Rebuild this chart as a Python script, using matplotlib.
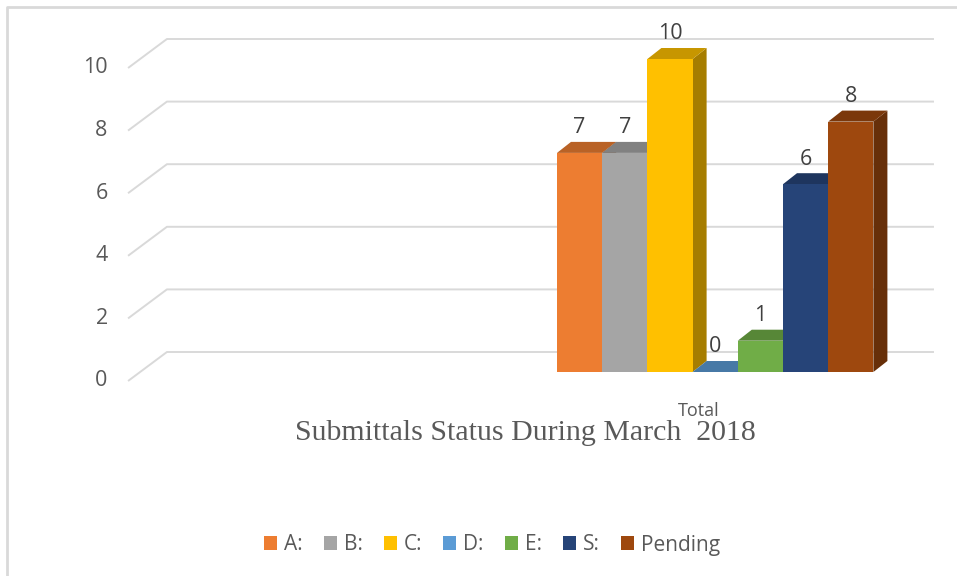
import numpy as np
import matplotlib
matplotlib.use('Agg')
import matplotlib.pyplot as plt
from matplotlib.patches import Polygon, Patch
from matplotlib.lines import Line2D

# --- DATA ---
categories = ["A:", "B:", "C:", "D:", "E:", "S:", "Pending"]
values = [7, 7, 10, 0, 1, 6, 8]
colors = ["#ED7D31", "#A5A5A5", "#FFC000", "#5B9BD5", "#70AD47", "#264478", "#9E480E"]
y_ticks = [0, 2, 4, 6, 8, 10]
group_label = "Total"
title = "Submittals Status During March  2018"

# --- 3D LOOK (in data units: x = one bar width, y = one value unit) ---
PX_X = 45.2      # pixels per bar
PX_Y = 31.3      # pixels per value unit
bar_dx, bar_dy = 14 / PX_X, 11 / PX_Y          # depth of a bar
floor_front = (-9.49, -9 / PX_Y)               # front-left corner of the floor
wall_left, wall_right, wall_dy = -8.63, 8.34, 20 / PX_Y
TOP_SHADE, SIDE_SHADE = 0.78, 0.65
GRID = "#D9D9D9"
TEXT = "#595959"
SANS = ["Open Sans", "DejaVu Sans"]


def shade(c, f):
    r, g, b = matplotlib.colors.to_rgb(c)
    return (r * f, g * f, b * f)


fig = plt.figure(figsize=(9.57, 5.76), dpi=100)
ax = fig.add_axes([0, 0, 1, 1])
# map data -> pixels: x0 of first bar sits at px 557, value 0 at px 372
ax.set_xlim(-557 / PX_X, (957 - 557) / PX_X)
ax.set_ylim((372 - 576) / PX_Y, 372 / PX_Y)
ax.axis("off")

# 1. back wall gridlines + diagonal floor/wall edge
for v in y_ticks:
    ax.plot([floor_front[0], wall_left, wall_right],
            [v + floor_front[1], v + wall_dy, v + wall_dy],
            color=GRID, lw=1.4, zorder=1, solid_capstyle="butt")
    ax.text(floor_front[0] - 0.45, v + floor_front[1], str(v), ha="right", va="center",
            fontsize=15.5, color=TEXT, family=SANS)

# 2. bars (front, top, side), left to right so neighbours overlap correctly
for i, (v, c) in enumerate(zip(values, colors)):
    x0, x1 = i, i + 1
    z = 2 + i
    side = Polygon([(x1, 0), (x1 + bar_dx, bar_dy), (x1 + bar_dx, v + bar_dy), (x1, v)],
                   closed=True, fc=shade(c, SIDE_SHADE), ec="none", zorder=z)
    top = Polygon([(x0, v), (x0 + bar_dx, v + bar_dy), (x1 + bar_dx, v + bar_dy), (x1, v)],
                  closed=True, fc=shade(c, TOP_SHADE), ec="none", zorder=z)
    ax.add_patch(side)
    ax.add_patch(top)
    ax.bar(x0, v, width=1, align="edge", color=c, zorder=z, linewidth=0)
    ax.text(x0 + 0.5, v + 0.8, str(v), ha="center", va="center",
            fontsize=15.5, color="#404040", family=SANS, zorder=20)

# 3. category label under the group
ax.text((699 - 557) / PX_X, -(416 - 372) / PX_Y, group_label, ha="center", va="baseline",
        fontsize=13, color=TEXT, family=SANS)

# 4. title (serif, below the plot)
fig.text(525 / 957, 1 - 440 / 576, title, ha="center", va="baseline",
         fontsize=21.5, color=TEXT, family=["Liberation Serif", "DejaVu Serif"])

# 5. legend
handles = [Patch(facecolor=c, edgecolor="none") for c in colors]
fig.legend(handles, categories, loc="center", bbox_to_anchor=(492 / 957, 1 - 545 / 576),
           ncol=len(categories), frameon=False, handlelength=0.62, handleheight=0.62,
           handletextpad=0.35, columnspacing=1.0,
           prop={"family": SANS, "size": 15}, labelcolor=TEXT)

# 6. chart border (only top/left visible in the crop)
fig.add_artist(Line2D([7.5 / 957, 7.5 / 957, 1], [0, 1 - 6.5 / 576, 1 - 6.5 / 576],
                      color=GRID, lw=2, transform=fig.transFigure))

plt.savefig("out.png", dpi=100)
